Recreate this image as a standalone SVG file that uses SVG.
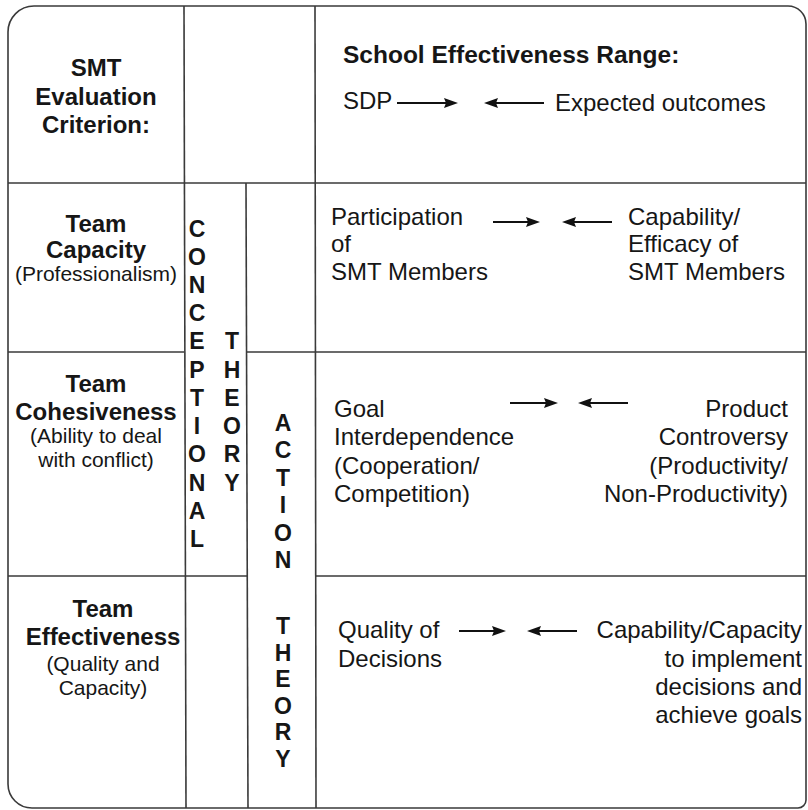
<svg xmlns="http://www.w3.org/2000/svg" width="808" height="810" viewBox="0 0 808 810">
<style>
.grid{fill:none;stroke:#3a3a3a;stroke-width:1.6}
text{font-family:"Liberation Sans",Arial,Helvetica,sans-serif;fill:#161616}
.h{font-weight:bold;font-size:24px;text-anchor:middle}
.s{font-size:21px;text-anchor:middle}
.r{font-size:24px}
.re{font-size:24px;text-anchor:end}
.hd{font-weight:bold;font-size:24.5px}
.v{font-weight:bold;font-size:23px;text-anchor:middle}
.arr{stroke:#111;stroke-width:2.2;fill:none;marker-end:url(#ah)}
</style>
<defs>
<marker id="ah" viewBox="0 0 14 11" refX="5" refY="5.5" markerWidth="14" markerHeight="11" markerUnits="userSpaceOnUse" orient="auto">
<path d="M0,0.5 L14,5.5 L0,10.5 L2,5.5 z" fill="#111"/>
</marker>
</defs>
<rect width="808" height="810" fill="#ffffff"/>
<g id="frame" class="grid">
<path d="M34,6 H788 A18,18 0 0 1 806,24 V800 A8,8 0 0 1 798,808 H32 A24,24 0 0 1 8,784 V32 A26,26 0 0 1 34,6 Z"/>
<line x1="8" y1="183" x2="806" y2="183"/>
<line x1="8" y1="352" x2="184" y2="352"/>
<line x1="246" y1="352" x2="806" y2="352"/>
<line x1="8" y1="576" x2="247" y2="576"/>
<line x1="316" y1="576" x2="806" y2="576"/>
<line x1="184" y1="6" x2="186" y2="808"/>
<line x1="315" y1="6" x2="316" y2="808"/>
<line x1="246" y1="183" x2="248" y2="808"/>
</g>
<g id="criterion-header">
<text class="h" x="96" y="76">SMT</text>
<text class="h" x="96" y="105">Evaluation</text>
<text class="h" x="96" y="133">Criterion:</text>
</g>
<g id="range-header">
<text class="hd" x="343" y="63">School Effectiveness Range:</text>
<text class="r" x="343" y="109">SDP</text>
<text class="r" x="555" y="111">Expected outcomes</text>
</g>
<g id="team-capacity">
<text class="h" x="96" y="232">Team</text>
<text class="h" x="96" y="258">Capacity</text>
<text class="s" x="96" y="281">(Professionalism)</text>
</g>
<g id="team-cohesiveness">
<text class="h" x="96" y="392">Team</text>
<text class="h" x="96" y="420">Cohesiveness</text>
<text class="s" x="96" y="443">(Ability to deal</text>
<text class="s" x="96" y="467">with conflict)</text>
</g>
<g id="team-effectiveness">
<text class="h" x="103" y="617">Team</text>
<text class="h" x="103" y="645">Effectiveness</text>
<text class="s" x="103" y="671">(Quality and</text>
<text class="s" x="103" y="695">Capacity)</text>
</g>
<g id="conceptional-theory">
<text class="v" x="197" y="237">C</text>
<text class="v" x="197" y="265">O</text>
<text class="v" x="197" y="293">N</text>
<text class="v" x="197" y="321">C</text>
<text class="v" x="197" y="349">E</text>
<text class="v" x="197" y="378">P</text>
<text class="v" x="197" y="406">T</text>
<text class="v" x="197" y="434">I</text>
<text class="v" x="197" y="462">O</text>
<text class="v" x="197" y="491">N</text>
<text class="v" x="197" y="519">A</text>
<text class="v" x="197" y="547">L</text>
<text class="v" x="232" y="349">T</text>
<text class="v" x="232" y="378">H</text>
<text class="v" x="232" y="406">E</text>
<text class="v" x="232" y="434">O</text>
<text class="v" x="232" y="462">R</text>
<text class="v" x="232" y="491">Y</text>
</g>
<g id="action-theory">
<text class="v" x="283" y="431">A</text>
<text class="v" x="283" y="458">C</text>
<text class="v" x="283" y="486">T</text>
<text class="v" x="283" y="513">I</text>
<text class="v" x="283" y="541">O</text>
<text class="v" x="283" y="568">N</text>
<text class="v" x="283" y="634">T</text>
<text class="v" x="283" y="661">H</text>
<text class="v" x="283" y="687">E</text>
<text class="v" x="283" y="714">O</text>
<text class="v" x="283" y="740">R</text>
<text class="v" x="283" y="767">Y</text>
</g>
<g id="participation">
<text class="r" x="331" y="225">Participation</text>
<text class="r" x="331" y="252">of</text>
<text class="r" x="331" y="280">SMT Members</text>
</g>
<g id="capability-efficacy">
<text class="r" x="628" y="225">Capability/</text>
<text class="r" x="628" y="252">Efficacy of</text>
<text class="r" x="628" y="280">SMT Members</text>
</g>
<g id="goal-interdependence">
<text class="r" x="334" y="417">Goal</text>
<text class="r" x="334" y="445">Interdependence</text>
<text class="r" x="334" y="474">(Cooperation/</text>
<text class="r" x="334" y="502">Competition)</text>
</g>
<g id="product-controversy">
<text class="re" x="788" y="417">Product</text>
<text class="re" x="788" y="445">Controversy</text>
<text class="re" x="788" y="474">(Productivity/</text>
<text class="re" x="788" y="502">Non-Productivity)</text>
</g>
<g id="quality-decisions">
<text class="r" x="338" y="638">Quality of</text>
<text class="r" x="338" y="667">Decisions</text>
</g>
<g id="capability-capacity">
<text class="re" x="802" y="638">Capability/Capacity</text>
<text class="re" x="802" y="667">to implement</text>
<text class="re" x="802" y="695">decisions and</text>
<text class="re" x="802" y="723">achieve goals</text>
</g>
<g id="connectors">
<line class="arr" x1="397" y1="103" x2="449" y2="103"/>
<line class="arr" x1="544" y1="103" x2="493" y2="103"/>
<line class="arr" x1="493" y1="222" x2="531" y2="222"/>
<line class="arr" x1="612" y1="222" x2="571" y2="222"/>
<line class="arr" x1="510" y1="403" x2="549" y2="403"/>
<line class="arr" x1="628" y1="403" x2="587" y2="403"/>
<line class="arr" x1="459" y1="631" x2="497" y2="631"/>
<line class="arr" x1="577" y1="631" x2="536" y2="631"/>
</g>
</svg>
